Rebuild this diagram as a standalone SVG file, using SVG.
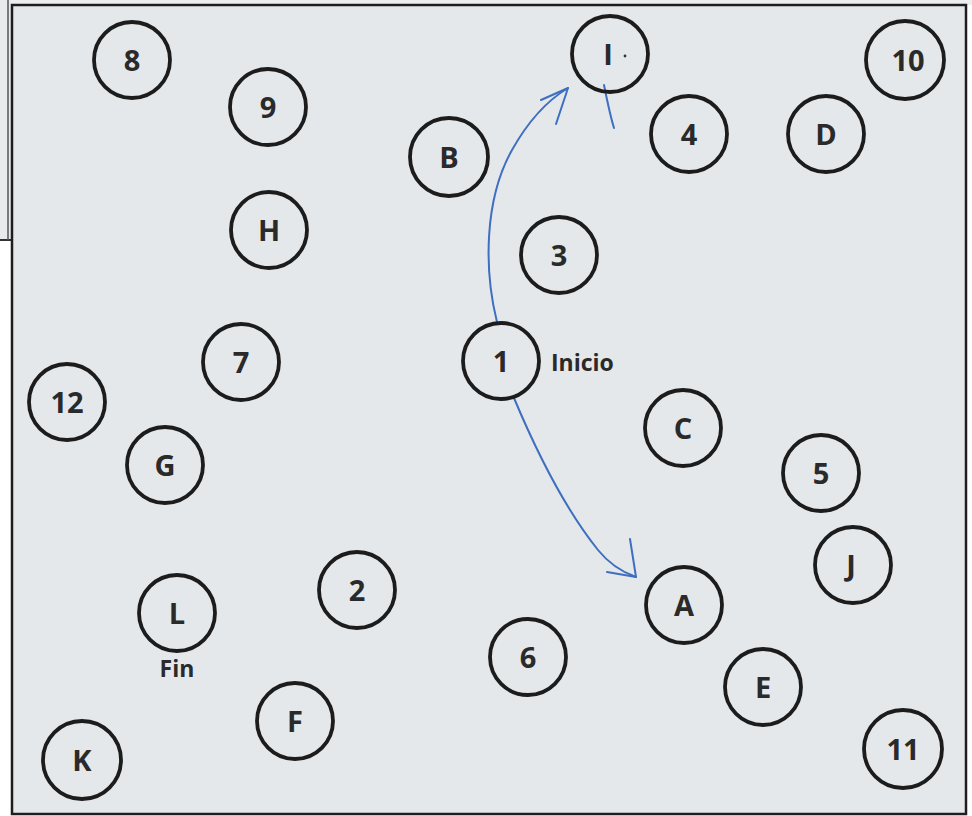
<svg xmlns="http://www.w3.org/2000/svg" width="972" height="816" viewBox="0 0 972 816">
<style>
.n circle{fill:none;stroke:#1c1c1c;stroke-width:3.8}
.n text{font-family:"Open Sans","Noto Sans",sans-serif;font-weight:bold;font-size:29px;fill:#2a2a2a;text-anchor:middle}
.lbl{font-family:"Open Sans","Noto Sans",sans-serif;font-weight:bold;font-size:23px;fill:#2a2a2a}
.c path{fill:none;stroke:#3f6fc0;stroke-width:2;stroke-linecap:round;stroke-linejoin:round}
</style>
<rect x="0" y="0" width="972" height="816" fill="#ffffff"/>
<rect x="0" y="0" width="972" height="5" fill="#eceeef"/>
<rect x="0" y="0" width="11" height="240" fill="#e8eaeb"/>
<line x1="0" y1="240" x2="11" y2="240" stroke="#333" stroke-width="2"/>
<line x1="8" y1="0" x2="8" y2="240" stroke="#555" stroke-width="1.5"/>
<rect x="12" y="5" width="954" height="809" fill="#e5e8eb" stroke="#1e1e1e" stroke-width="2.5"/>

<g class="c" id="connectors">
<path d="M497,322 C484,270 484,200 512,150 C530,118 548,100 568,88"/>
<path d="M541,100 L568,88 L556,124"/>
<path d="M604,85 C607,100 610,115 614,128"/>
<path d="M514,398 C540,460 570,515 598,550 C610,565 622,572 636,577"/>
<path d="M630,539 L636,577 L607,572"/>
</g>

<g class="n" id="n8"><circle cx="132" cy="60" r="38"/><text x="132" y="71">8</text></g>
<g class="n" id="n9"><circle cx="268" cy="107" r="38"/><text x="268" y="118">9</text></g>
<g class="n" id="nH"><circle cx="269" cy="230" r="38"/><text x="269" y="241">H</text></g>
<g class="n" id="nI"><circle cx="610" cy="54" r="38"/><text x="608" y="65">I</text><circle cx="625" cy="56" r="1.4" style="fill:#333;stroke:none"/></g>
<g class="n" id="nB"><circle cx="449" cy="157" r="39"/><text x="449" y="168">B</text></g>
<g class="n" id="n4"><circle cx="689" cy="134" r="38"/><text x="689" y="145">4</text></g>
<g class="n" id="nD"><circle cx="826" cy="134" r="38"/><text x="826" y="145">D</text></g>
<g class="n" id="n10"><circle cx="905" cy="60" r="39"/><text x="908" y="71">10</text></g>
<g class="n" id="n3"><circle cx="559" cy="255" r="38"/><text x="559" y="266">3</text></g>
<g class="n" id="n1"><circle cx="501" cy="361" r="38"/><text x="501" y="372">1</text></g>
<text class="lbl" x="551" y="371">Inicio</text>
<g class="n" id="n7"><circle cx="241" cy="362" r="38"/><text x="241" y="373">7</text></g>
<g class="n" id="n12"><circle cx="67" cy="402" r="38"/><text x="67" y="413">12</text></g>
<g class="n" id="nG"><circle cx="165" cy="465" r="38"/><text x="165" y="476">G</text></g>
<g class="n" id="nC"><circle cx="683" cy="428" r="38"/><text x="683" y="439">C</text></g>
<g class="n" id="n5"><circle cx="821" cy="473" r="38"/><text x="821" y="484">5</text></g>
<g class="n" id="nJ"><circle cx="853" cy="565" r="38"/><text x="851" y="576">J</text></g>
<g class="n" id="n2"><circle cx="357" cy="590" r="38"/><text x="357" y="601">2</text></g>
<g class="n" id="nL"><circle cx="177" cy="613" r="38"/><text x="177" y="624">L</text></g>
<text class="lbl" x="177" y="677" text-anchor="middle">Fin</text>
<g class="n" id="nA"><circle cx="684" cy="605" r="38"/><text x="684" y="616">A</text></g>
<g class="n" id="n6"><circle cx="528" cy="657" r="38"/><text x="528" y="668">6</text></g>
<g class="n" id="nE"><circle cx="763" cy="687" r="38"/><text x="763" y="698">E</text></g>
<g class="n" id="n11"><circle cx="903" cy="749" r="39"/><text x="903" y="760">11</text></g>
<g class="n" id="nF"><circle cx="295" cy="721" r="38"/><text x="295" y="732">F</text></g>
<g class="n" id="nK"><circle cx="82" cy="760" r="39"/><text x="82" y="771">K</text></g>
</svg>
